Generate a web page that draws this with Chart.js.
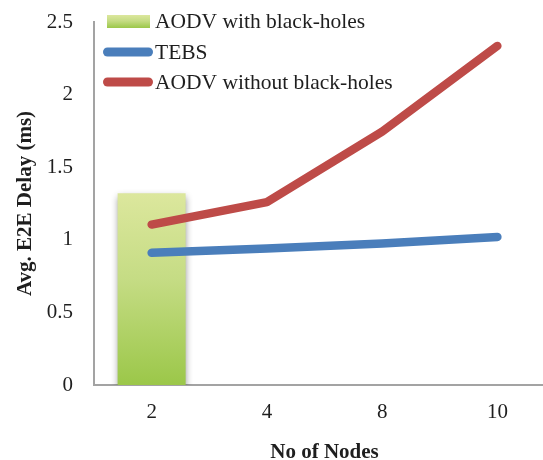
<!DOCTYPE html>
<html>
<head>
<meta charset="utf-8">
<script src="https://cdn.jsdelivr.net/npm/chart.js@4/dist/chart.umd.min.js"></script>
<style>
  html, body { margin: 0; padding: 0; background: #fff; overflow: hidden; }
  #wrap { width: 556px; height: 460px; }
</style>
</head>
<body>
<div id="wrap"><canvas id="c" width="556" height="460"></canvas></div>
<script>
// Average end-to-end delay versus network size
const nodes = ['2', '4', '8', '10'];
const aodvBlackHoles = [1.32, null, null, null];
const tebs = [0.91, 0.94, 0.975, 1.02];
const aodvClean = [1.105, 1.26, 1.745, 2.335];
const yTicks = [0, 0.5, 1, 1.5, 2, 2.5];

const SERIF = '"Liberation Serif", "Times New Roman", serif';
const GREEN_TOP = '#dce79d';
const GREEN_BOTTOM = '#9bc749';
const BLUE = '#4a7ebb';
const RED = '#be4b48';

function greenGradient(ctx, y0, y1) {
  const g = ctx.createLinearGradient(0, y0, 0, y1);
  g.addColorStop(0, GREEN_TOP);
  g.addColorStop(0.45, '#c5dc84');
  g.addColorStop(1, GREEN_BOTTOM);
  return g;
}

// soft drop shadow beneath the bar series
const barShadow = {
  id: 'barShadow',
  beforeDatasetDraw(chart, args) {
    if (args.index !== 0) return;
    const ctx = chart.ctx;
    ctx.save();
    ctx.shadowColor = 'rgba(0,0,0,0.45)';
    ctx.shadowBlur = 7;
    ctx.shadowOffsetX = 0;
    ctx.shadowOffsetY = 4;
  },
  afterDatasetDraw(chart, args) {
    if (args.index !== 0) return;
    chart.ctx.restore();
  }
};

// stacked legend drawn inside the plot area, top-left
const insideLegend = {
  id: 'insideLegend',
  afterDraw(chart) {
    const ctx = chart.ctx;
    const ds = chart.data.datasets;
    const rows = [
      { base: 28, mid: 21.5 },
      { base: 59, mid: 52 },
      { base: 89, mid: 82 }
    ];
    ctx.save();
    ctx.font = '21.5px ' + SERIF;
    ctx.textBaseline = 'alphabetic';
    ctx.textAlign = 'left';
    ds.forEach((d, i) => {
      const r = rows[i];
      if (d.type === 'bar') {
        ctx.fillStyle = greenGradient(ctx, r.mid - 6.5, r.mid + 6.5);
        ctx.fillRect(107, r.mid - 6.5, 43, 13);
      } else {
        ctx.strokeStyle = d.borderColor;
        ctx.lineWidth = 9;
        ctx.lineCap = 'round';
        ctx.beginPath();
        ctx.moveTo(107.5, r.mid);
        ctx.lineTo(148.5, r.mid);
        ctx.stroke();
      }
      ctx.fillStyle = '#1e1e1e';
      ctx.fillText(d.label, 155, r.base);
    });
    ctx.restore();
  }
};

new Chart(document.getElementById('c'), {
  data: {
    labels: nodes,
    datasets: [
      {
        type: 'bar',
        label: 'AODV with black-holes',
        data: aodvBlackHoles,
        backgroundColor(context) {
          const chart = context.chart;
          const area = chart.chartArea;
          if (!area) return GREEN_BOTTOM;
          const y = chart.scales.y;
          return greenGradient(chart.ctx, y.getPixelForValue(1.32), y.getPixelForValue(0));
        },
        borderWidth: 0,
        barPercentage: 0.59,
        categoryPercentage: 1,
        order: 3
      },
      {
        type: 'line',
        label: 'TEBS',
        data: tebs,
        borderColor: BLUE,
        backgroundColor: BLUE,
        borderWidth: 8.5,
        borderCapStyle: 'round',
        borderJoinStyle: 'round',
        pointRadius: 0,
        tension: 0,
        order: 2
      },
      {
        type: 'line',
        label: 'AODV without black-holes',
        data: aodvClean,
        borderColor: RED,
        backgroundColor: RED,
        borderWidth: 8.5,
        borderCapStyle: 'round',
        borderJoinStyle: 'round',
        pointRadius: 0,
        tension: 0,
        order: 1
      }
    ]
  },
  options: {
    responsive: false,
    animation: false,
    layout: { padding: { top: 22, right: 1, bottom: 0, left: 0 } },
    plugins: {
      legend: { display: false },
      tooltip: { enabled: false }
    },
    scales: {
      x: {
        offset: true,
        grid: { display: false, drawTicks: false },
        border: { display: true, color: '#a3a3a3', width: 2 },
        ticks: { color: '#1e1e1e', font: { family: SERIF, size: 21 }, padding: 15 },
        title: {
          display: true,
          text: 'No of Nodes',
          color: '#1e1e1e',
          font: { family: SERIF, size: 21, weight: 'bold' },
          padding: { top: 0, bottom: -5 }
        },
        afterFit(scale) { scale.height = 75; }
      },
      y: {
        min: 0,
        max: 2.5,
        grid: { display: false, drawTicks: false },
        border: { display: true, color: '#a3a3a3', width: 2 },
        ticks: {
          color: '#1e1e1e',
          font: { family: SERIF, size: 21 },
          padding: 21,
          callback: v => String(v)
        },
        afterBuildTicks(scale) { scale.ticks = yTicks.map(v => ({ value: v })); },
        title: {
          display: true,
          text: 'Avg. E2E Delay (ms)',
          color: '#1e1e1e',
          font: { family: SERIF, size: 21, weight: 'bold' },
          padding: { top: 13, bottom: 0 }
        },
        afterFit(scale) {
          scale.width = 94;
          scale.paddingTop = 0;
          scale.paddingBottom = 0;
        }
      }
    }
  },
  plugins: [barShadow, insideLegend]
});
</script>
</body>
</html>
